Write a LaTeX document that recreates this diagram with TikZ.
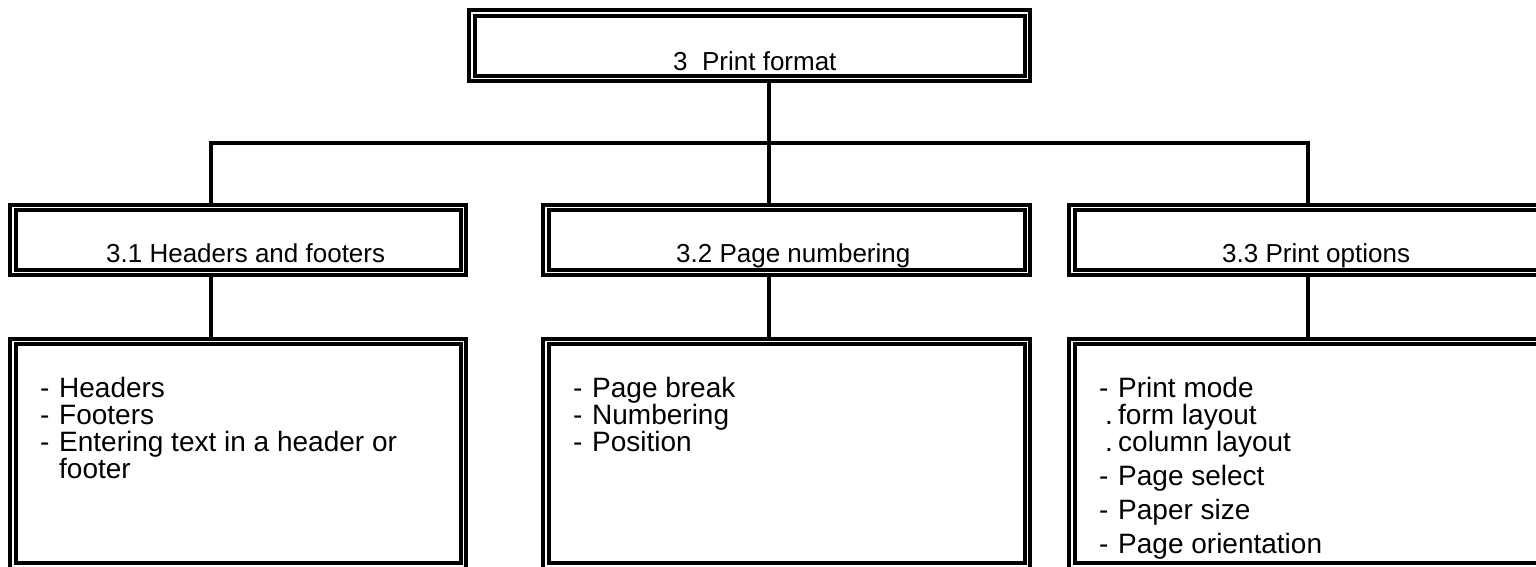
\documentclass[tikz,border=0pt]{standalone}
\usepackage{fontspec}
\setmainfont{Liberation Sans}
\newcommand\dashitem{\makebox[19pt][l]{-}}
\newcommand\dotitem{\makebox[19pt][l]{\hspace{6pt}.}}
\tikzset{
  boxframe/.style={rectangle, draw=black, line width=4pt, double=white,
    double distance=1.5pt, fill=white, inner sep=0pt, outer sep=4.75pt},
  conn/.style={draw=black, line width=4pt, line join=miter},
  lbl/.style={inner sep=0pt, anchor=base west, font=\fontsize{26}{28}\selectfont},
  lst/.style={inner sep=0pt, anchor=base west, font=\fontsize{28}{27}\selectfont},
}
\begin{document}
\begin{tikzpicture}[x=1pt, y=-1pt]
\useasboundingbox (0,0) rectangle (1536,566);
\clip (0,0) rectangle (1536,566);
% boxes
\node[boxframe, minimum width=555.5pt, minimum height=65.8pt] (top) at (749.8,45.65) {};
\node[boxframe, minimum width=450.5pt, minimum height=65.1pt] (b1) at (238,240) {};
\node[boxframe, minimum width=481.8pt, minimum height=65.1pt] (b2) at (786.65,240) {};
\node[boxframe, minimum width=481.8pt, minimum height=65.1pt] (b3) at (1312.65,240) {};
\node[boxframe, minimum width=450.5pt, minimum height=224.6pt] (c1) at (238,453.75) {};
\node[boxframe, minimum width=481.8pt, minimum height=224.6pt] (c2) at (786.65,453.75) {};
\node[boxframe, minimum width=481.8pt, minimum height=224.6pt] (c3) at (1312.65,453.75) {};
% junctions
\coordinate (jm) at (769,143);
\coordinate (jl) at (211,143);
\coordinate (jr) at (1307.5,143);
% connectors
\draw[conn] (top.south -| jm) -- (jm);
\draw[conn] (b1.north -| jl) -- (jl) -- (jr) -- (b3.north -| jr);
\draw[conn] (jm) -- (b2.north -| jm);
\draw[conn] (b1.south -| jl) -- (c1.north -| jl);
\draw[conn] (b2.south -| jm) -- (c2.north -| jm);
\draw[conn] (b3.south -| jr) -- (c3.north -| jr);
% titles
\node[lbl] (t0) at (673,70) {3\ \ Print format};
\node[lbl] (t1) at (106,262) {3.1 Headers and footers};
\node[lbl] (t2) at (676,262) {3.2 Page numbering};
\node[lbl] (t3) at (1222,262) {3.3 Print options};
% list 1
\node[lst] (l1a) at (40,397) {\dashitem Headers};
\node[lst] (l1b) at (40,424) {\dashitem Footers};
\node[lst] (l1c) at (40,451) {\dashitem Entering text in a header or};
\node[lst] (l1d) at (59,478) {footer};
% list 2
\node[lst] (l2a) at (573,397) {\dashitem Page break};
\node[lst] (l2b) at (573,424) {\dashitem Numbering};
\node[lst] (l2c) at (573,451) {\dashitem Position};
% list 3
\node[lst] (l3a) at (1099,397) {\dashitem Print mode};
\node[lst] (l3b) at (1099,424) {\dotitem form layout};
\node[lst] (l3c) at (1099,451) {\dotitem column layout};
\node[lst] (l3d) at (1099,485) {\dashitem Page select};
\node[lst] (l3e) at (1099,519) {\dashitem Paper size};
\node[lst] (l3f) at (1099,553) {\dashitem Page orientation};
\end{tikzpicture}
\end{document}
